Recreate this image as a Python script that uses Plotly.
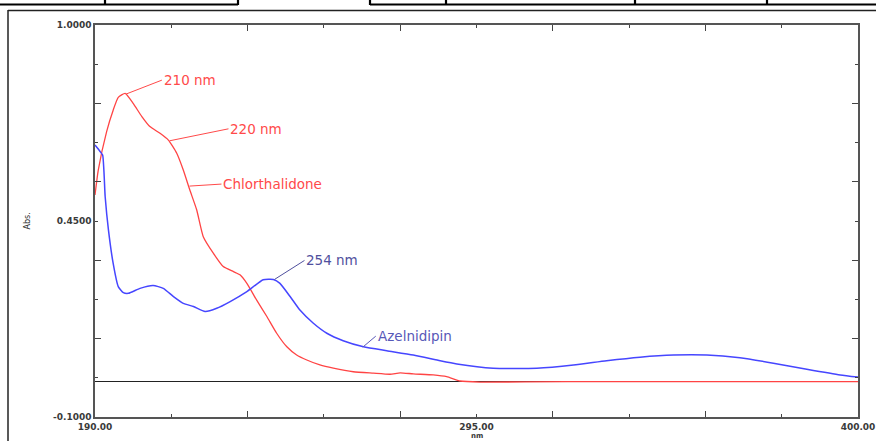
import plotly.graph_objects as go

# ---------------- data ----------------
wl_chlorthalidone = [190.0, 190.9, 193.2, 195.0, 196.4, 198.3, 200.5, 202.9, 205.1, 207.9,
                     210.2, 212.5, 214.3, 216.1, 218.0, 219.8, 222.6, 225.3, 228.1, 229.9,
                     231.8, 234.5, 237.3, 240.0, 242.8, 245.5, 248.3, 251.9, 255.6, 261.1,
                     266.6, 271.2, 274.0, 277.6, 283.1, 286.8, 290.5, 296.0, 320.0, 360.0, 400.0]
abs_chlorthalidone = [0.523, 0.593, 0.701, 0.761, 0.797, 0.808, 0.780, 0.743, 0.715, 0.696,
                      0.677, 0.640, 0.593, 0.537, 0.481, 0.406, 0.359, 0.322, 0.308, 0.299,
                      0.275, 0.228, 0.182, 0.135, 0.097, 0.074, 0.060, 0.046, 0.037, 0.027,
                      0.023, 0.020, 0.024, 0.021, 0.018, 0.013, 0.001, -0.002, -0.001, -0.001, -0.001]

wl_azelnidipine = [190.0, 191.4, 192.1, 192.8, 193.7, 195.0, 196.4, 197.8, 199.2, 202.4,
                   206.0, 208.8, 211.6, 214.3, 217.1, 220.3, 223.5, 227.2, 231.8, 236.3,
                   239.1, 240.9, 243.7, 246.4, 250.1, 253.8, 258.3, 263.9, 270.3, 277.6,
                   285.0, 289.6, 299.6, 311.6, 321.7, 330.8, 340.0, 349.2, 358.4, 367.5,
                   376.7, 385.9, 395.1, 400.0]
abs_azelnidipine = [0.663, 0.645, 0.635, 0.518, 0.425, 0.331, 0.266, 0.249, 0.247, 0.261,
                    0.269, 0.261, 0.238, 0.219, 0.210, 0.196, 0.205, 0.224, 0.252, 0.285,
                    0.286, 0.275, 0.238, 0.200, 0.163, 0.135, 0.114, 0.097, 0.086, 0.074,
                    0.058, 0.049, 0.037, 0.037, 0.046, 0.058, 0.068, 0.074, 0.074, 0.066,
                    0.051, 0.034, 0.018, 0.012]

x_tick_vals = [190, 211, 253, 295, 337, 379, 400]
x_tick_text = ["190.00", "", "", "295.00", "", "", "400.00"]
x_minor_vals = [232, 274, 316, 358]
y_tick_vals = [-0.1, 0.01, 0.23, 0.45, 0.67, 0.89, 1.0]
y_tick_text = ["-0.1000", "", "", "0.4500", "", "", "1.0000"]
y_minor_vals = [0.12, 0.34, 0.56, 0.78]

# label, wavelength, absorbance, pixel offset x, pixel offset y, colour
labels = [
    ("210 nm", 198.5, 0.806, 36, -14, "#ff4a4a"),
    ("220 nm", 210.5, 0.675, 59, -12, "#ff4a4a"),
    ("Chlorthalidone", 216.0, 0.548, 32, -2, "#ff4a4a"),
    ("254 nm", 239.4, 0.286, 30, -19, "#50509e"),
    ("Azelnidipin", 263.7, 0.096, 13, -11, "#5858b8"),
]

RED = "#ff4444"
BLUE = "#4646ff"

fig = go.Figure()
fig.add_trace(go.Scatter(x=wl_chlorthalidone, y=abs_chlorthalidone, mode="lines",
                         line=dict(color=RED, width=1.3, shape="spline", smoothing=0.5),
                         hoverinfo="skip", showlegend=False))
fig.add_trace(go.Scatter(x=wl_azelnidipine, y=abs_azelnidipine, mode="lines",
                         line=dict(color=BLUE, width=1.5, shape="spline", smoothing=0.5),
                         hoverinfo="skip", showlegend=False))

annotations = []
for text, wx, wy, ax, ay, col in labels:
    annotations.append(dict(x=wx, y=wy, xref="x", yref="y", text=text, showarrow=True,
                            arrowhead=0, arrowwidth=1, arrowcolor=col, ax=ax, ay=ay,
                            xanchor="left", yanchor="middle", standoff=0,
                            font=dict(family="DejaVu Sans", size=13.5, color=col)))
annotations.append(dict(text="Abs.", xref="paper", yref="paper", x=0, y=0.5, xshift=-75,
                        textangle=-90, showarrow=False,
                        font=dict(family="DejaVu Sans", size=8, color="#333333")))
annotations.append(dict(text="nm", xref="x", yref="paper", x=295, y=0, yshift=-24,
                        yanchor="bottom", showarrow=False, borderpad=0,
                        font=dict(family="DejaVu Sans", size=7, color="#333333", weight="bold")))

# page frame and document table lines (layout decoration)
L, R, T, B = 95, 858, 25, 417
W, H = 876, 441
def px(x):
    return (x - L) / (R - L)
def py(y):
    return (B - y) / (B - T)

shapes = [
    dict(type="line", xref="paper", yref="paper", x0=px(8), x1=px(8), y0=py(10), y1=py(H),
         line=dict(color="#222222", width=1.5)),
    dict(type="line", xref="paper", yref="paper", x0=px(8), x1=px(W), y0=py(10.5), y1=py(10.5),
         line=dict(color="#222222", width=1.5)),
    dict(type="line", xref="paper", yref="paper", x0=px(0), x1=px(238), y0=py(4.5), y1=py(4.5),
         line=dict(color="#000000", width=2.2)),
    dict(type="line", xref="paper", yref="paper", x0=px(370), x1=px(W), y0=py(4.5), y1=py(4.5),
         line=dict(color="#000000", width=2.2)),
]
for vx in [105, 238, 370, 446, 635, 767]:
    shapes.append(dict(type="line", xref="paper", yref="paper", x0=px(vx), x1=px(vx),
                       y0=py(0), y1=py(5), line=dict(color="#000000", width=2.2)))

tick_font = dict(family="DejaVu Sans", size=9, color="#3a3a3a", weight="bold")

fig.update_layout(
    width=W, height=H,
    margin=dict(l=L, r=W - R, t=T, b=H - B, pad=0, autoexpand=False),
    paper_bgcolor="white", plot_bgcolor="white",
    showlegend=False,
    annotations=annotations,
    shapes=shapes,
    xaxis=dict(range=[190, 400], showgrid=False, zeroline=False, automargin=False,
               showline=True, linecolor="#555555", linewidth=1.5, mirror="ticks",
               tickmode="array", tickvals=x_tick_vals, ticktext=x_tick_text,
               ticks="inside", ticklen=3, tickwidth=1, tickcolor="#444444",
               ticklabelstandoff=0, tickfont=tick_font,
               minor=dict(tickmode="array", tickvals=x_minor_vals, ticks="inside",
                          ticklen=6, tickwidth=1, tickcolor="#444444", showgrid=False)),
    yaxis=dict(range=[-0.1, 1.0], showgrid=False, automargin=False,
               zeroline=True, zerolinecolor="#222222", zerolinewidth=1.2,
               showline=True, linecolor="#555555", linewidth=1.5, mirror="ticks",
               tickmode="array", tickvals=y_tick_vals, ticktext=y_tick_text,
               ticks="inside", ticklen=3, tickwidth=1, tickcolor="#444444",
               tickfont=tick_font,
               minor=dict(tickmode="array", tickvals=y_minor_vals, ticks="inside",
                          ticklen=6, tickwidth=1, tickcolor="#444444", showgrid=False)),
)

fig.write_html("out.html", config={"displayModeBar": False},
               post_script="document.body.style.margin='0';")
